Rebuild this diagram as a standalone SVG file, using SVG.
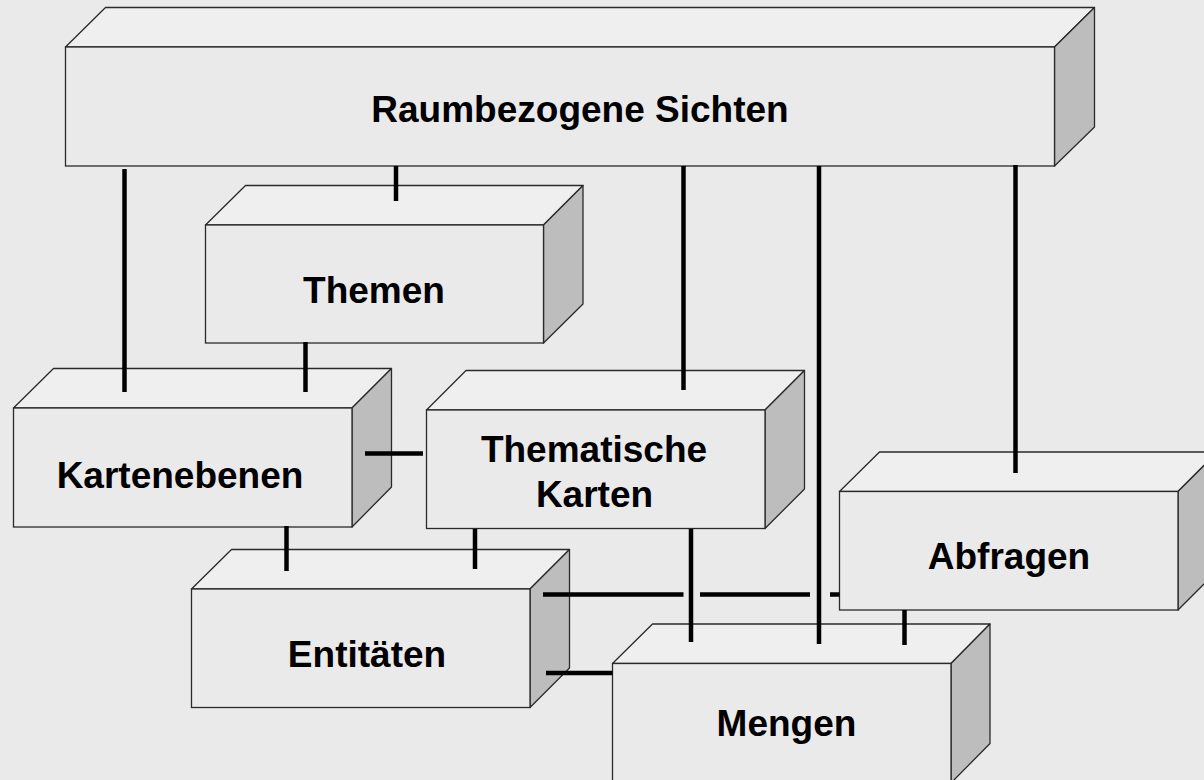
<svg xmlns="http://www.w3.org/2000/svg" width="1204" height="780" viewBox="0 0 1204 780">
<style>
.front{fill:#EAEAEA;stroke:#2a2a2a;stroke-width:1.3}
.top{fill:#EFEFEF;stroke:#2a2a2a;stroke-width:1.3;stroke-linejoin:round}
.side{fill:#BDBDBD;stroke:#2a2a2a;stroke-width:1.3;stroke-linejoin:round}
.lbl{font-family:"Liberation Sans",Arial,sans-serif;font-weight:bold;font-size:37px;fill:#000;text-anchor:middle}
.c{stroke:#000;stroke-width:4.5;fill:none}
</style>
<rect width="1204" height="780" fill="#EAEAEA"/>
<g id="raumbezogene-sichten">
<polygon class="top" points="65.5,47 105.5,7.5 1094.5,7.5 1054.5,47"/>
<polygon class="side" points="1054.5,47 1094.5,7.5 1094.5,127 1054.5,166"/>
<rect class="front" x="65.5" y="47" width="989" height="119"/>
<text class="lbl" x="580" y="122">Raumbezogene Sichten</text>
</g>
<g id="themen">
<polygon class="top" points="205.5,225 245.5,185.5 583,185.5 543.5,225"/>
<polygon class="side" points="543.5,225 583,185.5 583,304 543.5,343"/>
<rect class="front" x="205.5" y="225" width="338" height="118"/>
<text class="lbl" x="374" y="303">Themen</text>
</g>
<g id="kartenebenen">
<polygon class="top" points="13.5,408 53.5,368.5 391.5,368.5 352,408"/>
<polygon class="side" points="352,408 391.5,368.5 391.5,487 352,527"/>
<rect class="front" x="13.5" y="408" width="338.5" height="119"/>
<text class="lbl" x="180" y="488">Kartenebenen</text>
</g>
<g id="thematische-karten">
<polygon class="top" points="426.5,410 466,370.5 804.5,370.5 765,410"/>
<polygon class="side" points="765,410 804.5,370.5 804.5,489 765,528.5"/>
<rect class="front" x="426.5" y="410" width="338.5" height="118.5"/>
<text class="lbl" x="594" y="461.5">Thematische</text>
<text class="lbl" x="594.5" y="506.5">Karten</text>
</g>
<g id="abfragen">
<polygon class="top" points="839.5,491.5 879.5,452 1217.5,452 1178,491.5"/>
<polygon class="side" points="1178,491.5 1217.5,452 1217.5,570.5 1178,610"/>
<rect class="front" x="839.5" y="491.5" width="338.5" height="118.5"/>
<text class="lbl" x="1009" y="569">Abfragen</text>
</g>
<g id="entitaeten">
<polygon class="top" points="191.5,589 231.5,549.5 569.5,549.5 530,589"/>
<polygon class="side" points="530,589 569.5,549.5 569.5,668 530,707.5"/>
<rect class="front" x="191.5" y="589" width="338.5" height="118.5"/>
<text class="lbl" x="367" y="667">Entitäten</text>
</g>
<g id="mengen">
<polygon class="top" points="612.5,663.5 652.5,624 990,624 951,663.5"/>
<polygon class="side" points="951,663.5 990,624 990,743.5 951,783"/>
<rect class="front" x="612.5" y="663.5" width="338.5" height="119"/>
<text class="lbl" x="786.5" y="735.5">Mengen</text>
</g>
<g id="connectors">
<line class="c" x1="124.5" y1="169" x2="124.5" y2="392"/>
<line class="c" x1="396" y1="166" x2="396" y2="201"/>
<line class="c" x1="305.5" y1="342" x2="305.5" y2="392"/>
<line class="c" x1="683.5" y1="166" x2="683.5" y2="390"/>
<line class="c" x1="819" y1="166" x2="819" y2="644"/>
<line class="c" x1="1015.5" y1="165" x2="1015.5" y2="473"/>
<line class="c" x1="365" y1="453.5" x2="423" y2="453.5"/>
<line class="c" x1="286.5" y1="526" x2="286.5" y2="571"/>
<line class="c" x1="475" y1="529" x2="475" y2="569"/>
<line class="c" x1="691" y1="529" x2="691" y2="642"/>
<line class="c" x1="543" y1="594.5" x2="683.5" y2="594.5"/>
<line class="c" x1="700" y1="594.5" x2="810" y2="594.5"/>
<line class="c" x1="830" y1="594.5" x2="839.5" y2="594.5"/>
<line class="c" x1="546" y1="673" x2="612.5" y2="673"/>
<line class="c" x1="904.5" y1="610" x2="904.5" y2="645"/>
</g>
</svg>
